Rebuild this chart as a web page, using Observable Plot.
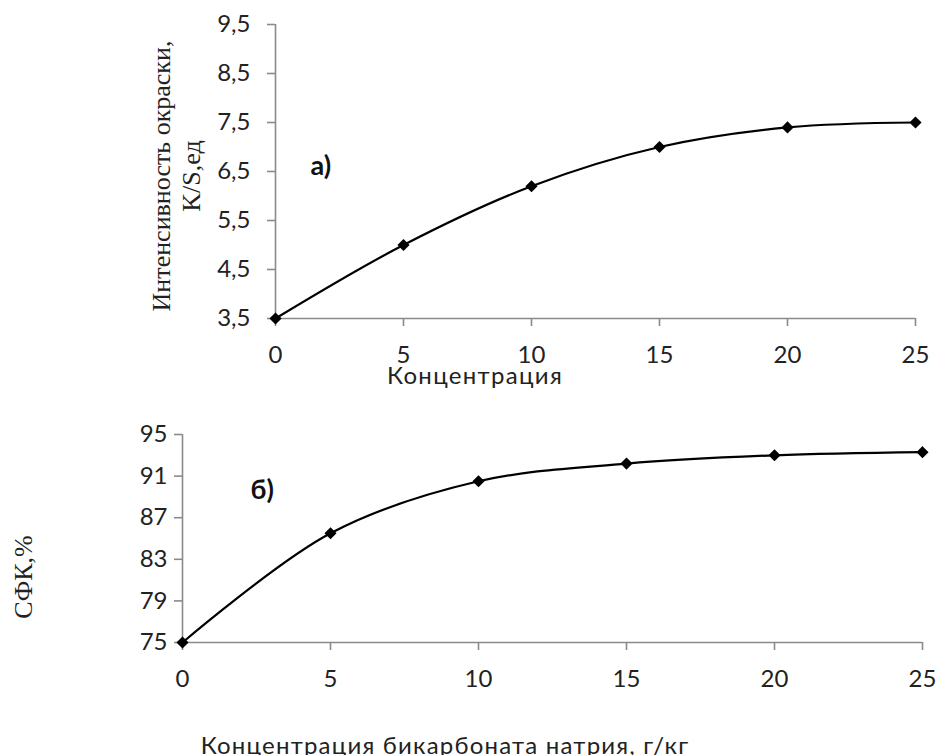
<!DOCTYPE html>
<html><head><meta charset="utf-8">
<script src="https://cdn.jsdelivr.net/npm/d3@7"></script>
<script src="https://cdn.jsdelivr.net/npm/@observablehq/plot@0.6"></script>
<style>
body{margin:0;background:#fff}
#wrap{position:relative;width:939px;height:755px;overflow:hidden;font-family:Lato,"Open Sans",sans-serif;color:#222}
#wrap svg{position:absolute;left:0;top:0}
.lbl{position:absolute;white-space:nowrap;line-height:1}
.serif{font-family:"Liberation Serif","DejaVu Serif",serif}
</style></head><body><div id="wrap"></div>
<script>
// ---- data ----
const concentration = [0, 5, 10, 15, 20, 25];
const intensity = [3.5, 5.0, 6.2, 7.0, 7.4, 7.5];
const sfk = [75, 85.5, 90.5, 92.2, 93.0, 93.3];
const xTicks = [0, 5, 10, 15, 20, 25];
const yTicksTop = [3.5, 4.5, 5.5, 6.5, 7.5, 8.5, 9.5];
const yTicksBottom = [75, 79, 83, 87, 91, 95];
const titleTopX = "Концентрация";
const titleTopY = ["Интенсивность окраски,", "K/S,ед"];
const titleBottomX = "Концентрация  бикарбоната натрия, г/кг";
const titleBottomY = "СФК,%";
const panelA = "а)";
const panelB = "б)";

const W = 939, H = 755;
const axisGray = "#8a8a8a";
const textCol = "#222";
const font = 'Lato, "Open Sans", sans-serif';

function panel(o) {
  const data = concentration.map((c, i) => ({x: c, y: o.values[i]}));
  return Plot.plot({
    width: W, height: H,
    marginLeft: o.mL, marginRight: o.mR, marginTop: o.mT, marginBottom: o.mB,
    style: {fontFamily: font, fontSize: "24px", color: textCol, background: "transparent", overflow: "visible"},
    x: {domain: [0, 25]},
    y: {domain: o.yDomain},
    marks: [
      Plot.ruleX([0], {stroke: axisGray, strokeWidth: 1.6}),
      Plot.ruleY([o.yDomain[0]], {stroke: axisGray, strokeWidth: 1.6}),
      Plot.axisX({ticks: xTicks, tickSize: 8, tickFormat: () => "", color: axisGray, strokeWidth: 1.6, label: null}),
      Plot.axisY({ticks: o.yTicks, tickSize: 8, tickFormat: () => "", color: axisGray, strokeWidth: 1.6, label: null}),
      Plot.axisX({ticks: xTicks, tickSize: 0, tickPadding: o.xPad, color: textCol, label: null, fontSize: 24}),
      Plot.axisY({ticks: o.yTicks, tickSize: 0, tickPadding: o.yPad, color: textCol, label: null, fontSize: 24,
        tickFormat: d => o.fmt(d)}),
      Plot.line(data, {x: "x", y: "y", curve: "catmull-rom", stroke: "#000", strokeWidth: 2.2}),
      Plot.dot(data, {x: "x", y: "y", symbol: "diamond2", fill: "#000", stroke: "#000", r: 4.5}),
      Plot.text([o.note], {x: o.noteX, y: o.noteY, text: d => d, textAnchor: "start", fontWeight: "bold",
        fontSize: 27, fill: "#111", fontFamily: font})
    ]
  });
}

const wrap = document.getElementById("wrap");

wrap.appendChild(panel({
  values: intensity, yDomain: [3.5, 9.5], yTicks: yTicksTop,
  fmt: d => d.toFixed(1).replace(".", ","),
  mL: 275, mR: 24, mT: 24, mB: H - 318, xPad: 27, yPad: 25,
  note: panelA, noteX: 1.37, noteY: 6.6
}));

wrap.appendChild(panel({
  values: sfk, yDomain: [75, 95], yTicks: yTicksBottom,
  fmt: d => String(d),
  mL: 182, mR: 17, mT: 434, mB: H - 642, xPad: 27, yPad: 15,
  note: panelB, noteX: 2.3, noteY: 89.6
}));

function label(text, css, cls) {
  const d = document.createElement("div");
  d.className = "lbl " + (cls || "");
  d.innerHTML = text;
  Object.assign(d.style, css);
  wrap.appendChild(d);
  return d;
}

label(titleTopX, {left: "475px", top: "363px", fontSize: "24px", letterSpacing: "1.3px", transform: "translateX(-50%)"});
label(titleBottomX, {left: "445px", top: "733px", fontSize: "24px", letterSpacing: "1.2px", transform: "translateX(-50%)"});
label(titleTopY.join("<br>"), {left: "177px", top: "176px", fontSize: "26px", lineHeight: "30px", textAlign: "center",
  transform: "translate(-50%,-50%) rotate(-90deg)"}, "serif");
label(titleBottomY, {left: "24px", top: "577px", fontSize: "26px", transform: "translate(-50%,-50%) rotate(-90deg)"}, "serif");
</script></body></html>
